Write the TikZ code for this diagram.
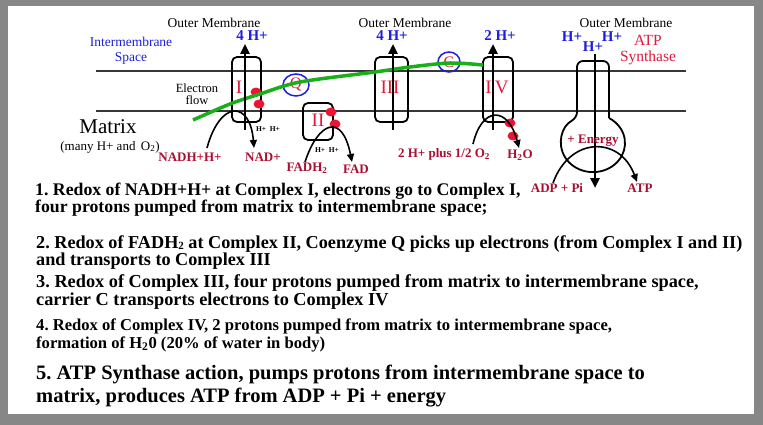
\documentclass[tikz,border=0pt]{standalone}
\usepackage{fontspec}
\setmainfont{Liberation Serif}
\usetikzlibrary{arrows.meta}
\frenchspacing
\definecolor{gframe}{RGB}{135,135,135}
\definecolor{mblue}{RGB}{30,30,225}
\definecolor{numred}{RGB}{225,25,60}
\definecolor{lblred}{RGB}{170,15,50}
\definecolor{blobred}{RGB}{235,20,50}
\definecolor{egreen}{RGB}{25,175,25}
\definecolor{memgray}{RGB}{55,55,55}
\newcommand{\fsz}[1]{\fontsize{#1}{#1}\selectfont}
\newcommand{\fszl}[2]{\fontsize{#1}{#2}\selectfont}
\newcommand{\lowtwo}{\raisebox{-1.5pt}{\fontsize{11}{11}\selectfont 2}}
\tikzset{
  membrane/.style={draw=memgray,line width=1.3pt},
  cplx/.style={draw=black,line width=1.8pt,rounded corners=5pt},
  pump/.style={draw=black,line width=2.4pt,-{Triangle[length=10pt,width=9pt]}},
  react/.style={draw=black,line width=1.6pt,-{Triangle[length=8pt,width=7pt]}},
  blob/.style={fill=blobred,draw=none},
  outerlbl/.style={font=\fsz{13.5},inner sep=0pt},
  protonlbl/.style={text=mblue,font=\fsz{15}\bfseries,inner sep=0pt},
  numlbl/.style={text=numred,font=\fsz{19},inner sep=0pt},
  redlbl/.style={text=lblred,font=\fsz{13}\bfseries,inner sep=0pt},
  tinylbl/.style={font=\fsz{7.5}\bfseries,inner sep=0pt},
  carrier/.style={draw=mblue,line width=1.5pt},
  bodytxt/.style={anchor=base west,inner sep=0pt,align=left},
}
\begin{document}
\begin{tikzpicture}[x=1pt,y=-1pt]
\useasboundingbox (0,0) rectangle (763,425);
\fill[gframe] (0,0) rectangle (763,425);
\fill[white] (8,6) rectangle (754,414);

% membranes
\coordinate (mt1) at (96,71); \coordinate (mt2) at (686,71);
\coordinate (mb1) at (96,111); \coordinate (mb2) at (686,111);
\draw[membrane] (mt1) -- (mt2);
\draw[membrane] (mb1) -- (mb2);

% labels
\node[outerlbl] (om1) at (214,23) {Outer Membrane};
\node[outerlbl] (om2) at (405,23) {Outer Membrane};
\node[outerlbl] (om3) at (626,23) {Outer Membrane};
\node[text=mblue,font=\fsz{13.5},align=center,inner sep=0pt] (ims) at (131,51) {Intermembrane\\[2pt]Space};
\node[font=\fsz{12.5},align=center,inner sep=0pt] (ef) at (197,94) {Electron\\[0pt]flow};
\node[font=\fsz{21},inner sep=0pt] (mx) at (108,127) {Matrix};
\node[font=\fsz{13},inner sep=0pt] (mxs) at (110,147) {(many H+ and \,O\textsubscript{2})};

% complexes
\draw[cplx] (232,57) rectangle (261,122);
\node[numlbl] (nI) at (239,87) {I};
\draw[cplx] (303,103) rectangle (333,140);
\node[numlbl] (nII) at (318,120) {II};
\draw[cplx] (375,57) rectangle (408,122);
\node[numlbl] (nIII) at (390,87) {III};
\draw[cplx] (483,57) rectangle (513,122);
\node[numlbl] (nIV) at (497,87) {I\kern3ptV};

% ATP synthase
\draw[line width=1.8pt,rounded corners=6pt] (609,118) -- (609,61) -- (577,61) -- (577,118)
  arc[start angle=240,end angle=-60,x radius=32,y radius=29];
\node[text=numred,font=\fsz{15.5},align=center,inner sep=0pt] (atps) at (648,50) {ATP\\[1pt]Synthase};

% blobs
\fill[blob] (256,92) ellipse (5.5 and 4.5);
\fill[blob] (259,104) ellipse (5.5 and 4.5);
\fill[blob] (331,112) ellipse (5.5 and 4.5);
\fill[blob] (335,124) ellipse (5.5 and 4.5);
\fill[blob] (510,123) ellipse (5.5 and 4.5);
\fill[blob] (513,136) ellipse (5.5 and 4.5);

% carriers Q and C
\draw[carrier] (296,85) ellipse (13 and 11);
\node[text=numred,font=\fsz{16},inner sep=0pt] (cq) at (296,85) {Q};
\draw[carrier] (449,62) ellipse (11 and 10);
\node[text=numred,font=\fsz{16},inner sep=0pt] (cc) at (449,62) {C};

% green electron flow
\draw[egreen,line width=3.5pt] plot[smooth] coordinates {(193,120) (230,104) (260,94) (300,82) (375,72) (410,67) (450,63) (483,65)};

% proton pumps
\coordinate (pIb) at (245,130); \coordinate (pIt) at (245,44);
\coordinate (pIIIb) at (393,130); \coordinate (pIIIt) at (393,44);
\coordinate (pIVb) at (493,130); \coordinate (pIVt) at (493,44);
\coordinate (pAt) at (595,54); \coordinate (pAb) at (595,188);
\draw[pump] (pIb) -- (pIt);
\draw[pump] (pIIIb) -- (pIIIt);
\draw[pump] (pIVb) -- (pIVt);
\draw[pump] (pAt) -- (pAb);

\node[protonlbl] (h1) at (252,36) {4 H+};
\node[protonlbl] (h3) at (392,36) {4 H+};
\node[protonlbl] (h4) at (500,36) {2 H+};
\node[protonlbl] (ha) at (572,37) {H+};
\node[protonlbl] (hb) at (593,47) {H+};
\node[protonlbl] (hc) at (612,37) {H+};

% reactions
\node[redlbl] (nadh) at (190,157) {NADH+H+};
\node[redlbl] (nad) at (263,157) {NAD+};
\node[tinylbl] (hh1) at (268,129) {H+ \ H+};
\coordinate (r1s) at (207,148); \coordinate (r1e) at (254,148);
\draw[react] (r1s) .. controls (220,100) and (250,100) .. (r1e);

\node[redlbl] (fadh) at (307,168) {FADH\textsubscript{2}};
\node[redlbl] (fad) at (356,169) {FAD};
\node[tinylbl] (hh2) at (327,150) {H+ \ H+};
\coordinate (r2s) at (305,162); \coordinate (r2e) at (352,162);
\draw[react] (r2s) .. controls (318,122) and (342,112) .. (r2e);

\node[redlbl] (o2) at (444,154) {2 H+ plus 1/2 O\textsubscript{2}};
\node[redlbl] (h2o) at (520,155) {H\textsubscript{2}O};
\coordinate (r4s) at (473,144); \coordinate (r4e) at (519,148);
\draw[react] (r4s) .. controls (482,106) and (508,106) .. (r4e);

\node[redlbl] (en) at (593,141) {+ Energy};
\node[redlbl] (adp) at (557,188) {ADP + Pi};
\node[redlbl] (atp) at (640,188) {ATP};
\coordinate (r5s) at (553,183); \coordinate (r5e) at (637,182);
\draw[react] (r5s) .. controls (570,136) and (620,136) .. (r5e);

% body text (base anchor = baseline of last line)
\node[bodytxt,font=\fszl{17.75}{17}\bfseries] (t1) at (35,212) {1. Redox of NADH+H+ at Complex I, electrons go to Complex I,\\four protons pumped from matrix to intermembrane space;};
\node[bodytxt,font=\fszl{18.2}{17}\bfseries] (t2) at (36,265) {2. Redox of FADH\lowtwo{} at Complex II, Coenzyme Q picks up electrons (from Complex I and II)\\and transports to Complex III};
\node[bodytxt,font=\fszl{18.3}{18}\bfseries] (t3) at (36,305) {3. Redox of Complex III, four protons pumped from matrix to intermembrane space,\\carrier C transports electrons to Complex IV};
\node[bodytxt,font=\fszl{16.6}{18}\bfseries] (t4) at (36,348) {4. Redox of Complex IV, 2 protons pumped from matrix to intermembrane space,\\formation of H\textsubscript{2}0 (20\% of water in body)};
\node[bodytxt,font=\fszl{20.5}{23}\bfseries] (t5) at (36,402) {5. ATP Synthase action, pumps protons from intermembrane space to\\matrix, produces ATP from ADP + Pi + energy};
\end{tikzpicture}
\end{document}
